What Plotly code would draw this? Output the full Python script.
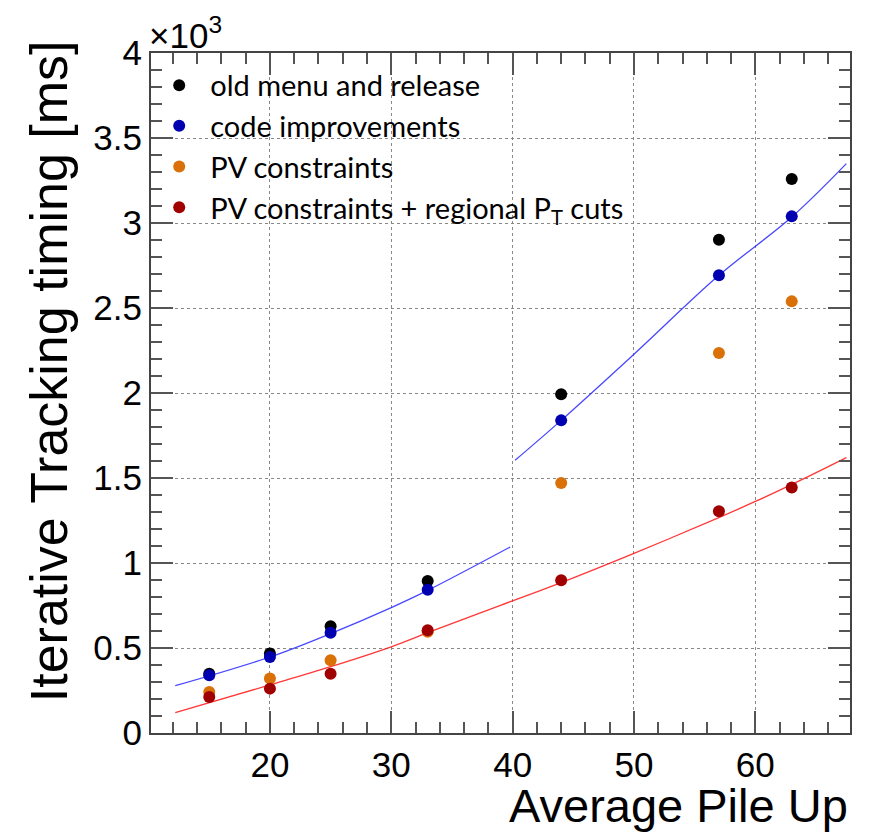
import plotly.graph_objects as go

# ---- data ----
pileup = [15, 20, 25, 33, 44, 57, 63]
old_menu = [349, 467, 628, 894, 1992, 2902, 3259]
code_impr = [339, 447, 590, 843, 1839, 2692, 3039]
pv_constr = [241, 320, 428, 595, 1471, 2235, 2539]
pv_pt_cuts = [212, 261, 349, 605, 898, 1304, 1444]

# fit curves
blue_fit1_x = [12.2, 20, 25, 30, 33, 39.8]
blue_fit1_y = [278, 447, 585, 738, 839, 1094]
blue_fit2_x = [40.2, 44, 50, 57, 63, 67.5]
blue_fit2_y = [1604, 1839, 2228, 2692, 3035, 3349]
red_fit_x = [12.2, 20, 25, 30, 33, 39, 44, 50, 56.8, 60, 63.7, 67.5]
red_fit_y = [120, 283, 390, 507, 590, 751, 885, 1057, 1261, 1362, 1486, 1620]

series_names = ["old menu and release", "code improvements", "PV constraints",
                "PV constraints + regional P<sub>T</sub> cuts"]
series_colors = ["#000000", "#0000b0", "#d97008", "#a00000"]

y_tickvals = [0, 500, 1000, 1500, 2000, 2500, 3000, 3500, 4000]
y_ticktext = ["0", "0.5", "1", "1.5", "2", "2.5", "3", "3.5", "4"]
x_tickvals = [20, 30, 40, 50, 60]

fig = go.Figure()

fit_line = dict(width=1.3)
fig.add_trace(go.Scatter(x=blue_fit1_x, y=blue_fit1_y, mode="lines", line_shape="spline",
                         line=dict(color="rgba(40,40,255,0.85)", **fit_line), showlegend=False, hoverinfo="skip"))
fig.add_trace(go.Scatter(x=blue_fit2_x, y=blue_fit2_y, mode="lines", line_shape="spline",
                         line=dict(color="rgba(40,40,255,0.85)", **fit_line), showlegend=False, hoverinfo="skip"))
fig.add_trace(go.Scatter(x=red_fit_x, y=red_fit_y, mode="lines", line_shape="spline",
                         line=dict(color="rgba(255,20,20,0.85)", **fit_line), showlegend=False, hoverinfo="skip"))

for i, (name, vals, col) in enumerate(zip(series_names,
                                         [old_menu, code_impr, pv_constr, pv_pt_cuts],
                                         series_colors)):
    fig.add_trace(go.Scatter(x=pileup, y=vals, mode="markers", name=name,
                             marker=dict(color=col, size=12, line=dict(width=0))))

axis_common = dict(
    showline=True, linecolor="#444", linewidth=2, mirror="ticks",
    ticks="inside", ticklen=22, tickwidth=1.5, tickcolor="#555",
    showgrid=True, gridcolor="#888", griddash="dot", gridwidth=1,
    zeroline=False,
    tickfont=dict(family="Liberation Sans, Arial", size=35, color="black"),
)

fig.update_xaxes(range=[10.2, 67.8], tickvals=x_tickvals,
                 minor=dict(dtick=2, tick0=0, ticks="inside", ticklen=11, tickwidth=1.5,
                            tickcolor="#555", showgrid=False),
                 **axis_common)
fig.update_yaxes(range=[0, 4000], tickvals=y_tickvals, ticktext=y_ticktext,
                 minor=dict(dtick=100, tick0=0, ticks="inside", ticklen=11, tickwidth=1.5,
                            tickcolor="#555", showgrid=False),
                 **axis_common)

fig.add_shape(type="rect", xref="paper", yref="paper", x0=0.002, x1=0.735, y0=0.742, y1=0.998,
              fillcolor="white", line=dict(width=0), layer="between")

fig.add_annotation(text="×10<sup>3</sup>", xref="paper", yref="paper", x=0, y=1,
                   xanchor="left", yanchor="bottom", showarrow=False, yshift=-4, xshift=-4,
                   font=dict(family="Liberation Sans, Arial", size=35, color="black"))
fig.add_annotation(text="Iterative Tracking timing [ms]", xref="paper", yref="paper",
                   x=0, y=0.532, xanchor="center", yanchor="middle", xshift=-102,
                   textangle=-90, showarrow=False,
                   font=dict(family="Liberation Sans, Arial", size=52, color="black"))
fig.add_annotation(text="Average Pile Up", xref="paper", yref="paper",
                   x=1, y=0, xanchor="right", yanchor="bottom", yshift=-101, xshift=0,
                   showarrow=False,
                   font=dict(family="Liberation Sans, Arial", size=47, color="black"))

# the page body adds an 8px offset, so the figure is sized 8px smaller and shifted
fig.update_layout(
    width=867, height=832,
    margin=dict(l=143, r=25, t=45, b=107),
    paper_bgcolor="white", plot_bgcolor="white",
    showlegend=True,
    legend=dict(x=-0.004, y=0.99, xanchor="left", yanchor="top",
                bgcolor="rgba(0,0,0,0)", borderwidth=0,
                font=dict(family="Lato, Noto Sans", size=29, color="black"),
                itemwidth=52, itemsizing="constant"),
)

fig.write_html("out.html")
